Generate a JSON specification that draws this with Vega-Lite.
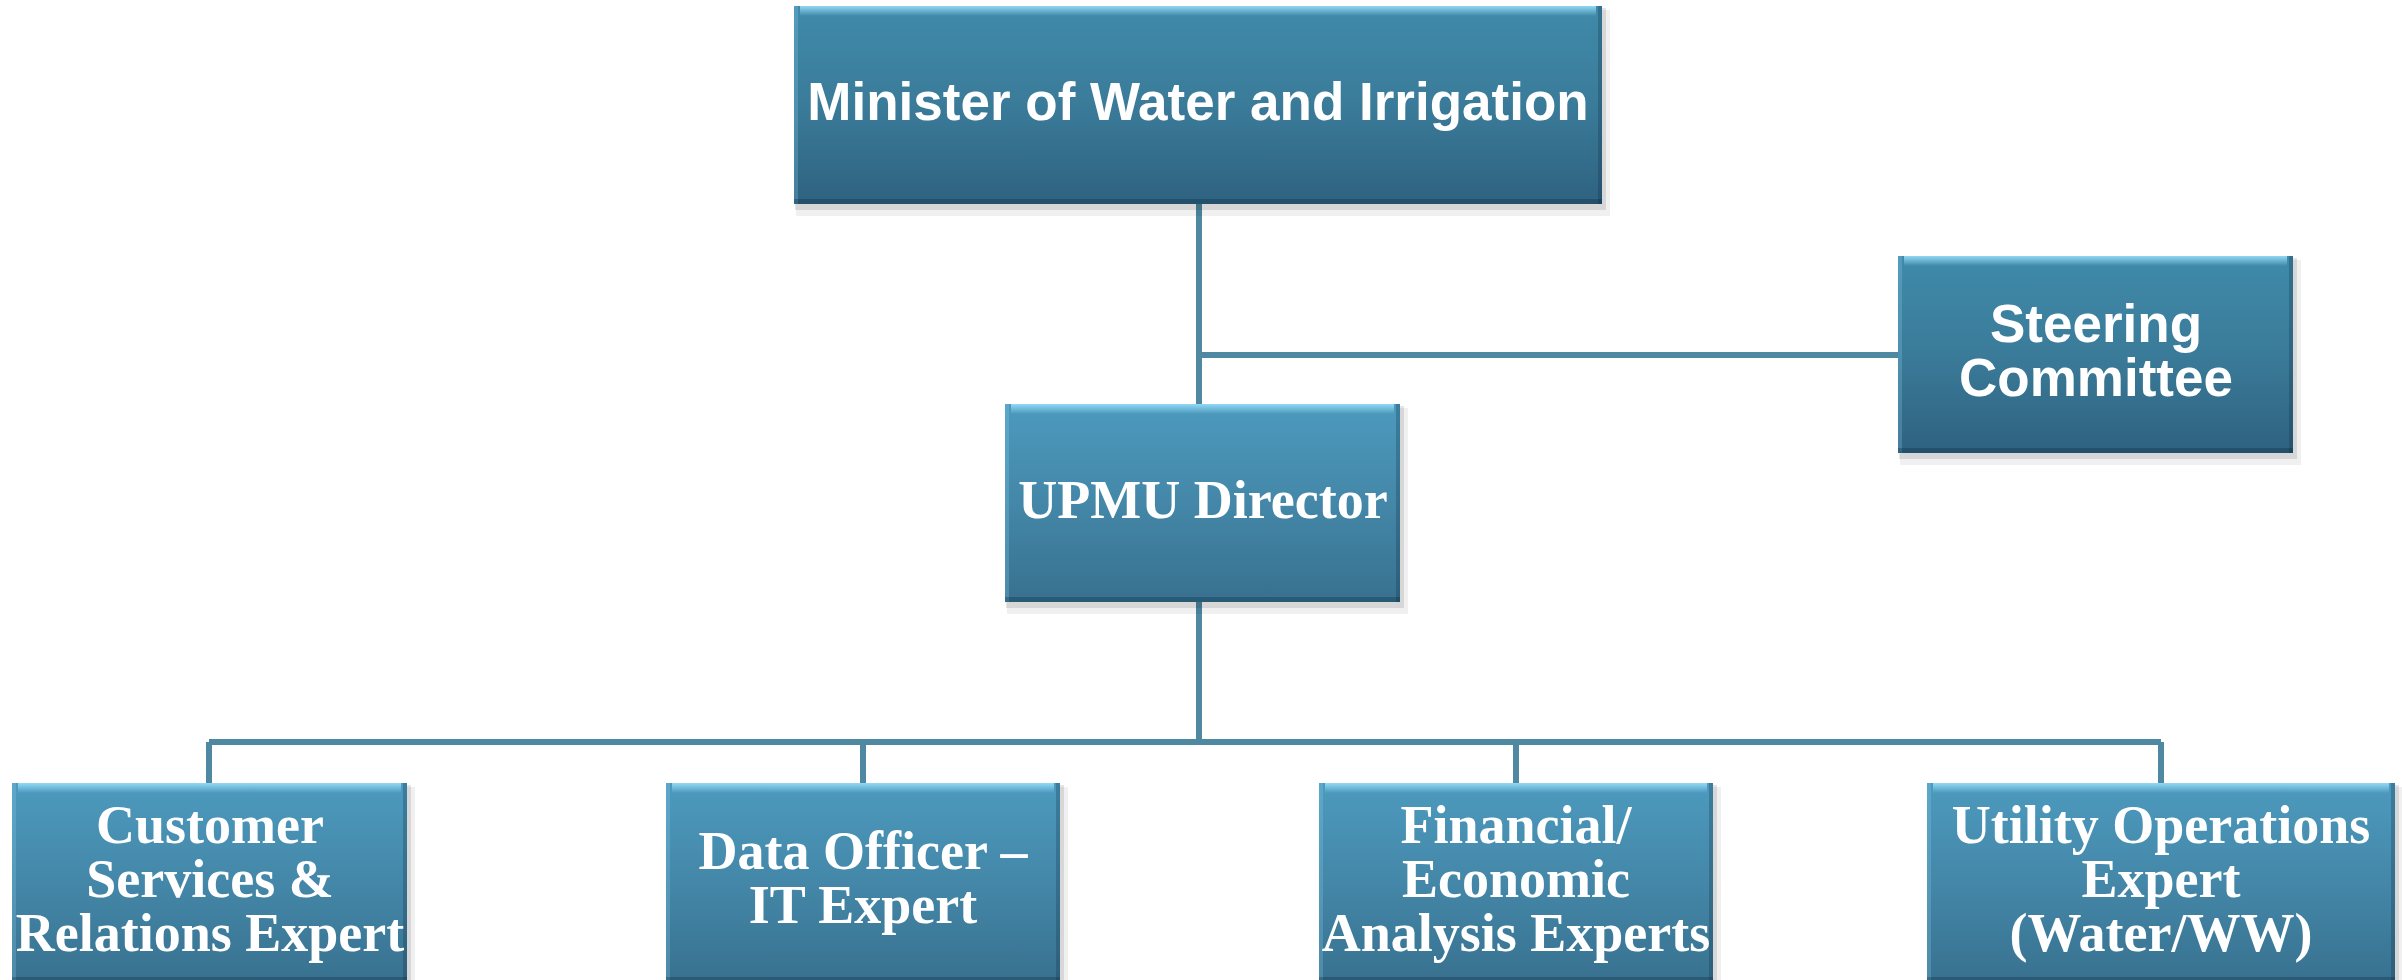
{
  "$schema": "https://vega.github.io/schema/vega-lite/v6.json",
  "width": 2402,
  "height": 980,
  "autosize": {"type": "none"},
  "padding": 0,
  "background": "#ffffff",
  "config": {"view": {"stroke": null}},
  "datasets": {
    "boxes": [
      {"label": "Minister of Water and Irrigation", "tone": "dark", "font": "sans", "x1": 794, "x2": 1602, "y1": 6, "y2": 204, "cx": 1198, "ty": 104},
      {"label": "Steering\nCommittee", "tone": "dark", "font": "sans", "x1": 1898, "x2": 2293, "y1": 256, "y2": 453, "cx": 2096, "ty": 326},
      {"label": "UPMU Director", "tone": "light", "font": "serif", "x1": 1005, "x2": 1400, "y1": 404, "y2": 602, "cx": 1203, "ty": 502},
      {"label": "Customer\nServices &\nRelations Expert", "tone": "light", "font": "serif", "x1": 12, "x2": 407, "y1": 783, "y2": 982, "cx": 210, "ty": 827},
      {"label": "Data Officer –\nIT Expert", "tone": "light", "font": "serif", "x1": 666, "x2": 1060, "y1": 783, "y2": 982, "cx": 863, "ty": 853},
      {"label": "Financial/\nEconomic\nAnalysis Experts", "tone": "light", "font": "serif", "x1": 1319, "x2": 1713, "y1": 783, "y2": 982, "cx": 1516, "ty": 827},
      {"label": "Utility Operations\nExpert\n(Water/WW)", "tone": "light", "font": "serif", "x1": 1927, "x2": 2395, "y1": 783, "y2": 982, "cx": 2161, "ty": 827}
    ],
    "links": [
      {"x": 1199, "y": 204, "x2": 1199, "y2": 404},
      {"x": 1199, "y": 355, "x2": 1898, "y2": 355},
      {"x": 1199, "y": 602, "x2": 1199, "y2": 742},
      {"x": 209, "y": 742, "x2": 2161, "y2": 742},
      {"x": 209, "y": 742, "x2": 209, "y2": 783},
      {"x": 863, "y": 742, "x2": 863, "y2": 783},
      {"x": 1516, "y": 742, "x2": 1516, "y2": 783},
      {"x": 2161, "y": 742, "x2": 2161, "y2": 783}
    ]
  },
  "layer": [
    {
      "data": {"name": "links"},
      "mark": {"type": "rule", "color": "#4f88a1", "strokeWidth": 6, "strokeCap": "butt"},
      "encoding": {
        "x": {"field": "x", "type": "quantitative", "scale": {"domain": [0, 2402], "nice": false, "zero": false}, "axis": null},
        "y": {"field": "y", "type": "quantitative", "scale": {"domain": [0, 980], "nice": false, "zero": false, "reverse": true}, "axis": null},
        "x2": {"field": "x2"},
        "y2": {"field": "y2"}
      }
    },
    {
      "data": {"name": "boxes"},
      "mark": {"type": "rect", "fill": "#000000", "opacity": 0.06, "xOffset": 2, "x2Offset": 8, "yOffset": 4, "y2Offset": 12},
      "encoding": {
        "x": {"field": "x1", "type": "quantitative"},
        "x2": {"field": "x2"},
        "y": {"field": "y1", "type": "quantitative"},
        "y2": {"field": "y2"}
      }
    },
    {
      "data": {"name": "boxes"},
      "mark": {"type": "rect", "fill": "#000000", "opacity": 0.1, "xOffset": 1, "x2Offset": 4, "yOffset": 2, "y2Offset": 6},
      "encoding": {
        "x": {"field": "x1", "type": "quantitative"},
        "x2": {"field": "x2"},
        "y": {"field": "y1", "type": "quantitative"},
        "y2": {"field": "y2"}
      }
    },
    {
      "data": {"name": "boxes"},
      "transform": [{"filter": "datum.tone === 'dark'"}],
      "mark": {"type": "rect", "fill": {"gradient": "linear", "x1": 0, "y1": 0, "x2": 0, "y2": 1, "stops": [{"offset": 0, "color": "#408aaa"}, {"offset": 0.5, "color": "#3a7b99"}, {"offset": 1, "color": "#2e6280"}]}},
      "encoding": {
        "x": {"field": "x1", "type": "quantitative"},
        "x2": {"field": "x2"},
        "y": {"field": "y1", "type": "quantitative"},
        "y2": {"field": "y2"}
      }
    },
    {
      "data": {"name": "boxes"},
      "transform": [{"filter": "datum.tone === 'light'"}],
      "mark": {"type": "rect", "fill": {"gradient": "linear", "x1": 0, "y1": 0, "x2": 0, "y2": 1, "stops": [{"offset": 0, "color": "#4c9abe"}, {"offset": 0.5, "color": "#4487a8"}, {"offset": 1, "color": "#38718f"}]}},
      "encoding": {
        "x": {"field": "x1", "type": "quantitative"},
        "x2": {"field": "x2"},
        "y": {"field": "y1", "type": "quantitative"},
        "y2": {"field": "y2"}
      }
    },
    {
      "data": {"name": "boxes"},
      "mark": {"type": "rect", "fill": {"gradient": "linear", "x1": 0, "y1": 0, "x2": 0, "y2": 1, "stops": [{"offset": 0, "color": "rgba(150,220,248,0.95)"}, {"offset": 1, "color": "rgba(150,220,248,0)"}]}, "xOffset": 6, "x2Offset": -6, "y2Offset": 10},
      "encoding": {
        "x": {"field": "x1", "type": "quantitative"},
        "x2": {"field": "x2"},
        "y": {"field": "y1", "type": "quantitative"},
        "y2": {"field": "y1"}
      }
    },
    {
      "data": {"name": "boxes"},
      "mark": {"type": "rect", "fill": "rgba(140,210,240,0.25)", "x2Offset": 4},
      "encoding": {
        "x": {"field": "x1", "type": "quantitative"},
        "x2": {"field": "x1"},
        "y": {"field": "y1", "type": "quantitative"},
        "y2": {"field": "y2"}
      }
    },
    {
      "data": {"name": "boxes"},
      "mark": {"type": "rect", "fill": "rgba(10,40,60,0.25)", "xOffset": -4},
      "encoding": {
        "x": {"field": "x2", "type": "quantitative"},
        "x2": {"field": "x2"},
        "y": {"field": "y1", "type": "quantitative"},
        "y2": {"field": "y2"}
      }
    },
    {
      "data": {"name": "boxes"},
      "mark": {"type": "rect", "fill": "rgba(10,40,60,0.3)", "yOffset": -5},
      "encoding": {
        "x": {"field": "x1", "type": "quantitative"},
        "x2": {"field": "x2"},
        "y": {"field": "y2", "type": "quantitative"},
        "y2": {"field": "y2"}
      }
    },
    {
      "data": {"name": "boxes"},
      "transform": [{"filter": "datum.font === 'sans'"}],
      "mark": {"type": "text", "font": "Liberation Sans", "fontWeight": "bold", "fontSize": 53, "color": "#ffffff", "align": "center", "baseline": "middle", "lineBreak": "\n", "lineHeight": 54},
      "encoding": {
        "x": {"field": "cx", "type": "quantitative"},
        "y": {"field": "ty", "type": "quantitative"},
        "text": {"field": "label"}
      }
    },
    {
      "data": {"name": "boxes"},
      "transform": [{"filter": "datum.font === 'serif'"}],
      "mark": {"type": "text", "font": "Liberation Serif", "fontWeight": "bold", "fontSize": 54, "color": "#ffffff", "align": "center", "baseline": "middle", "lineBreak": "\n", "lineHeight": 54},
      "encoding": {
        "x": {"field": "cx", "type": "quantitative"},
        "y": {"field": "ty", "type": "quantitative"},
        "text": {"field": "label"}
      }
    }
  ]
}
